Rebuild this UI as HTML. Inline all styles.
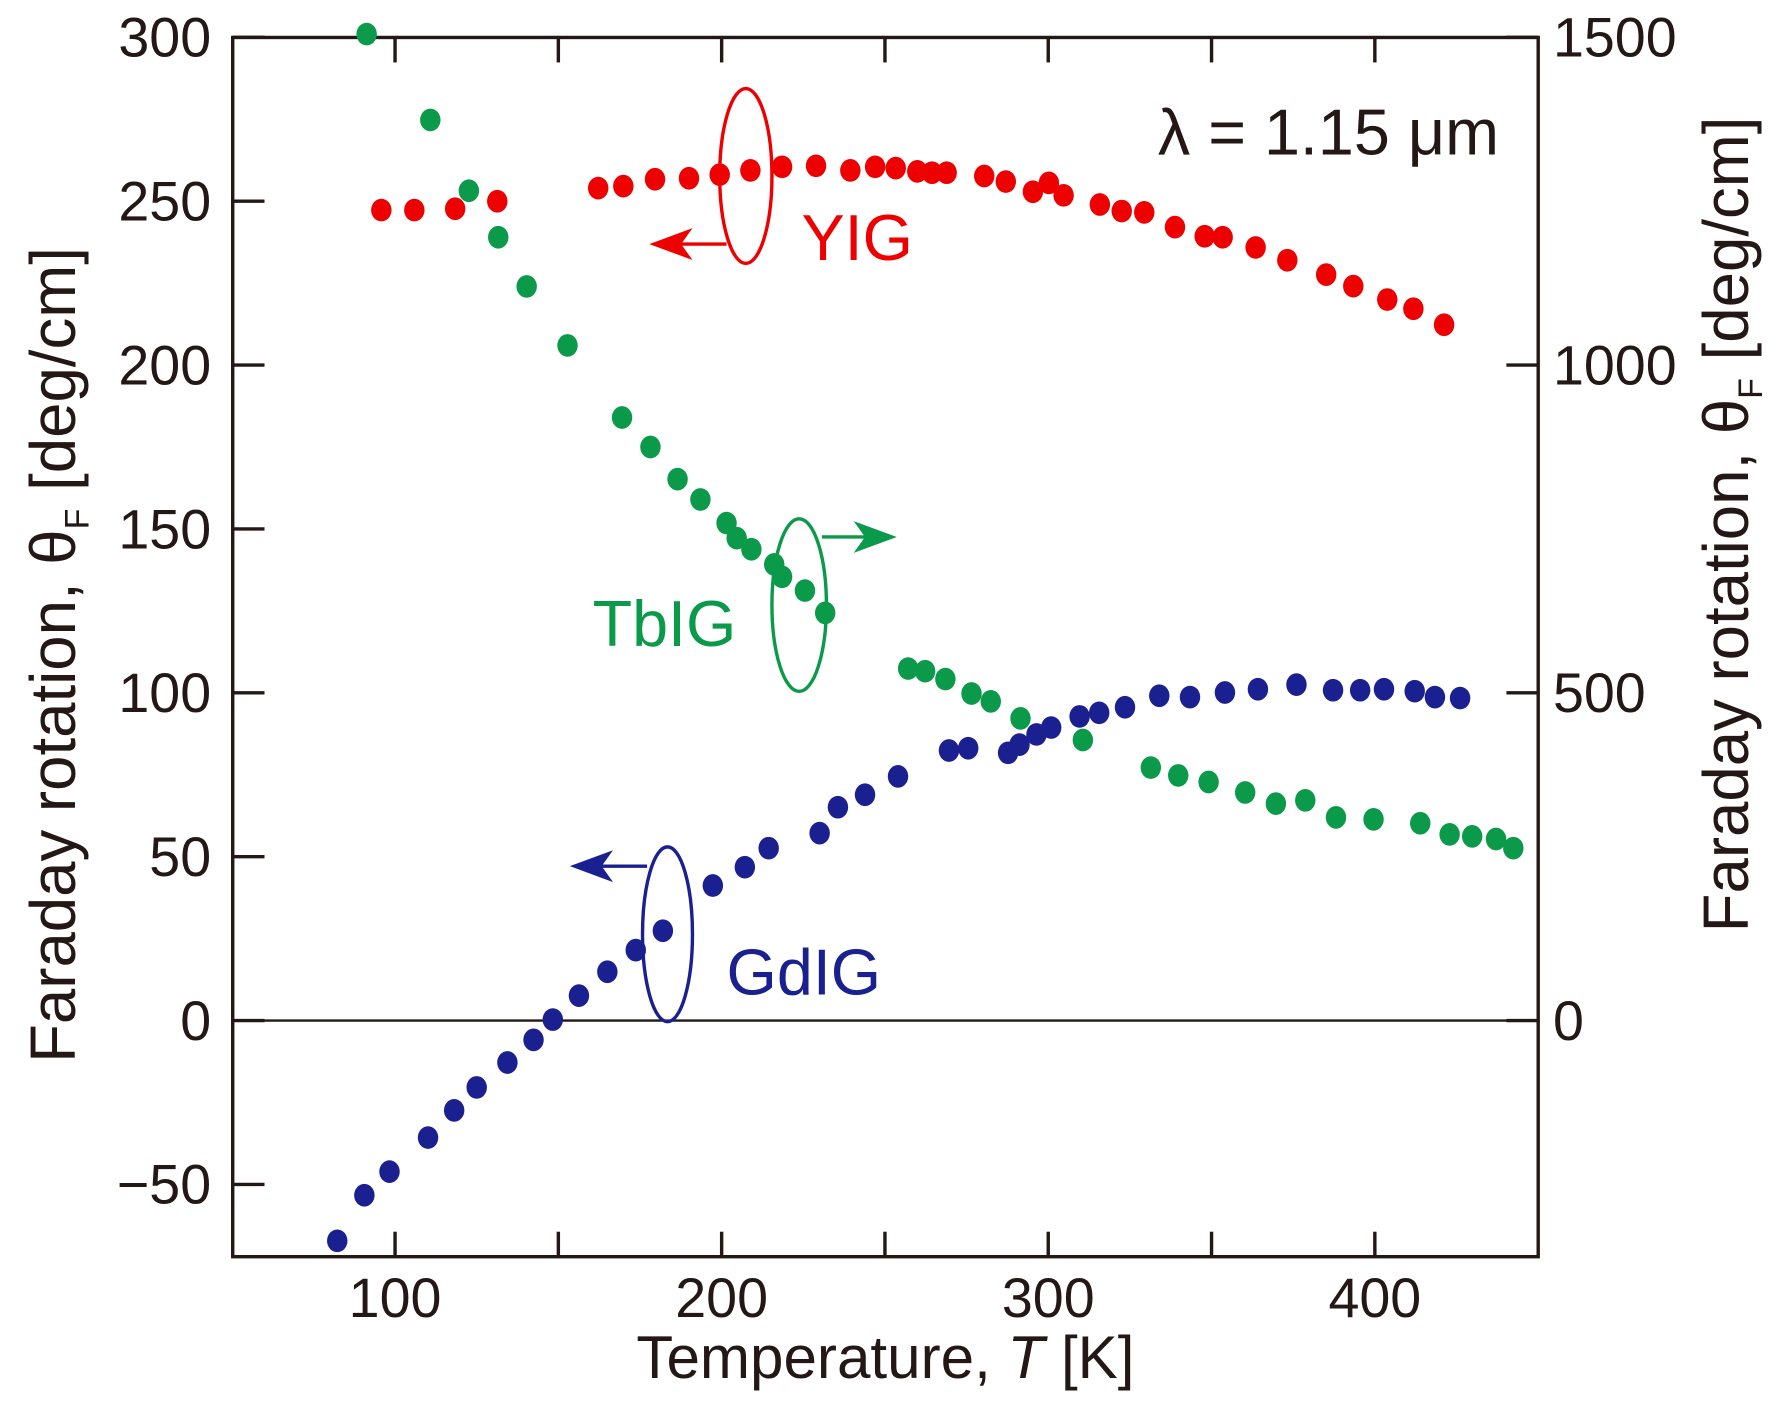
<!DOCTYPE html>
<html><head><meta charset="utf-8"><style>
html,body{margin:0;padding:0;background:#fff;}
svg{display:block;}
text{font-family:"Liberation Sans",sans-serif;}
</style></head><body>
<svg id="chart" width="1780" height="1402" viewBox="0 0 1568 1235" preserveAspectRatio="none" xmlns="http://www.w3.org/2000/svg">
<rect width="1568" height="1235" fill="#fff"/>
<g id="axes"></g>
<g id="marks"></g>
<g id="annot">
 <ellipse cx="657" cy="155" rx="23" ry="77" fill="none" stroke="#e00" stroke-width="3"/>
 <line x1="640" y1="215" x2="590" y2="215" stroke="#e00" stroke-width="3"/>
 <polygon points="572,215 610,201 600,215 610,229" fill="#e00"/>
 <text x="706" y="229" font-size="57" fill="#e00">YIG</text>
 <ellipse cx="704" cy="533" rx="24" ry="76" fill="none" stroke="#0a9a4a" stroke-width="3"/>
 <line x1="724" y1="473" x2="772" y2="473" stroke="#0a9a4a" stroke-width="3"/>
 <polygon points="790,473 752,459 762,473 752,487" fill="#0a9a4a"/>
 <text x="522" y="569" font-size="57" fill="#0a9a4a">TbIG</text>
 <ellipse cx="588" cy="823" rx="22" ry="77" fill="none" stroke="#1a2090" stroke-width="3"/>
 <line x1="570" y1="763" x2="520" y2="763" stroke="#1a2090" stroke-width="3"/>
 <polygon points="502,763 540,749 530,763 540,777" fill="#1a2090"/>
 <text x="640" y="876" font-size="57" fill="#1a2090">GdIG</text>
 <text x="1020" y="136" font-size="57" fill="#231815">λ = 1.15 μm</text>
</g>
</svg>
<script>
const xTicks=[100,150,200,250,300,350,400];
const xTickLabels=[100,200,300,400];
const yTicks=[-50,0,50,100,150,200,250,300];
const y2Ticks=[0,500,1000,1500];
const yigT=[95.8,105.9,118.4,131.3,162.2,169.9,179.6,190,199.4,208.8,218.5,228.9,239.4,247,253.3,259.9,264.4,268.9,280.4,287,295.3,300.2,304.7,315.8,322.5,329.4,338.8,347.9,353.4,363.5,373.2,385.1,393.4,403.8,411.8,421.2];
const yigV=[247.3,247.3,247.7,250,254,254.6,256.7,257,258.1,259.4,260.5,260.8,259.4,260.5,260.1,259.1,258.7,258.7,257.7,256,252.9,255.6,251.8,249,247,246.6,242.1,239.3,239,235.9,232,227.6,224.1,220,217.2,212.3];
const tbigT=[91.3,110.8,122.6,131.6,140.3,152.8,169.5,178.2,186.5,193.5,201.5,204.6,209.1,216.1,218.5,225.5,231.7,257.1,262.3,268.5,276.5,282.4,291.5,310.6,331.4,339.8,349.1,360.3,369.7,378.7,388.1,399.6,413.9,422.9,429.8,437.1,442.4];
const tbigV=[1505,1374,1266,1195,1120,1030,920,875,826,795,759,736,719,696,677,656,622,537,533,521,499,487,461,428,386,374,364,348,331,336,310,307,301,284,281,277,263];
const gdigT=[82.3,90.6,98.3,110.1,118.1,125,134.4,142.4,148.3,156.3,165,173.7,182,197.3,207.1,214.4,230,235.6,243.9,254,269.6,275.5,287.7,291.2,296.4,300.9,309.6,315.6,323.5,334,343.4,354.1,364.2,376,387.2,395.5,402.8,412.2,418.4,426.1];
const gdigV=[-67.2,-53.3,-46.1,-35.7,-27.4,-20.4,-12.8,-5.9,0.3,7.6,14.9,21.5,27.4,41.2,46.8,52.6,57.2,65.1,68.9,74.5,82.4,83.1,81.7,84.2,87.3,89.4,92.8,93.9,95.6,99.1,98.7,100.1,101.1,102.5,100.8,100.8,101.1,100.5,98.7,98.4];

const L=205,R=1355,T=33,B=1107;
const X=t=>348+(t-100)*2.877;
const Y=v=>899-v*2.887;
const Y2=v=>Y(v/5);
const NS='http://www.w3.org/2000/svg';
function mk(tag,attrs,parent){const e=document.createElementNS(NS,tag);for(const k in attrs)e.setAttribute(k,attrs[k]);parent.appendChild(e);return e;}
const axes=document.getElementById('axes'),marks=document.getElementById('marks');
const ink='#231815';
let e;
e=mk('rect',{x:L,y:T,width:R-L,height:B-T,fill:'none',stroke:ink,'stroke-width':3},axes);


e=mk('line',{x1:L,x2:R,y1:Y(0),y2:Y(0),stroke:ink,'stroke-width':2},axes);


xTicks.forEach(t=>{
 e=mk('line',{x1:X(t),x2:X(t),y1:B,y2:B-22,stroke:ink,'stroke-width':3},axes);
 
 
 e=mk('line',{x1:X(t),x2:X(t),y1:T,y2:T+22,stroke:ink,'stroke-width':3},axes);
 
 
});
xTickLabels.forEach(t=>{
 e=mk('text',{x:X(t),y:1160,'font-size':49,'text-anchor':'middle',fill:ink},axes);e.textContent=t;
 
 
});
yTicks.forEach(v=>{
 e=mk('line',{x1:L,x2:L+28,y1:Y(v),y2:Y(v),stroke:ink,'stroke-width':3},axes);
 
 
 e=mk('text',{x:186,y:Y(v)+17,'font-size':49,'text-anchor':'end',fill:ink},axes);e.textContent=v<0?'\u2212'+(-v):v;
 
 
});
y2Ticks.forEach(v=>{
 e=mk('line',{x1:R,x2:R-28,y1:Y2(v),y2:Y2(v),stroke:ink,'stroke-width':3},axes);
 
 
 e=mk('text',{x:1368,y:Y2(v)+17,'font-size':49,fill:ink},axes);e.textContent=v;
 
 
});
e=mk('text',{x:780,y:1214,'font-size':53,'text-anchor':'middle',fill:ink},axes);
e.innerHTML='Temperature, <tspan font-style="italic">T</tspan> [K]';


e=mk('text',{x:0,y:0,'font-size':56,'text-anchor':'middle',fill:ink,transform:'translate(66,577) rotate(-90)'},axes);
e.innerHTML='Faraday rotation, θ<tspan font-size="30" dy="12">F</tspan><tspan dy="-12"> [deg/cm]</tspan>';


e=mk('text',{x:0,y:0,'font-size':56,'text-anchor':'middle',fill:ink,transform:'translate(1540,462) rotate(-90)'},axes);
e.innerHTML='Faraday rotation, θ<tspan font-size="30" dy="12">F</tspan><tspan dy="-12"> [deg/cm]</tspan>';


function series(ts,vs,yf,color,name){
 ts.forEach((t,i)=>{
  const d=mk('ellipse',{cx:X(t),cy:yf(vs[i]),rx:9,ry:10,fill:color},marks);
  
  
 });
}
series(yigT,yigV,Y,'#ee0000','yig-point');
series(tbigT,tbigV,Y2,'#0a9a4a','tbig-point');
series(gdigT,gdigV,Y,'#1a2090','gdig-point');
</script>
</body></html>
